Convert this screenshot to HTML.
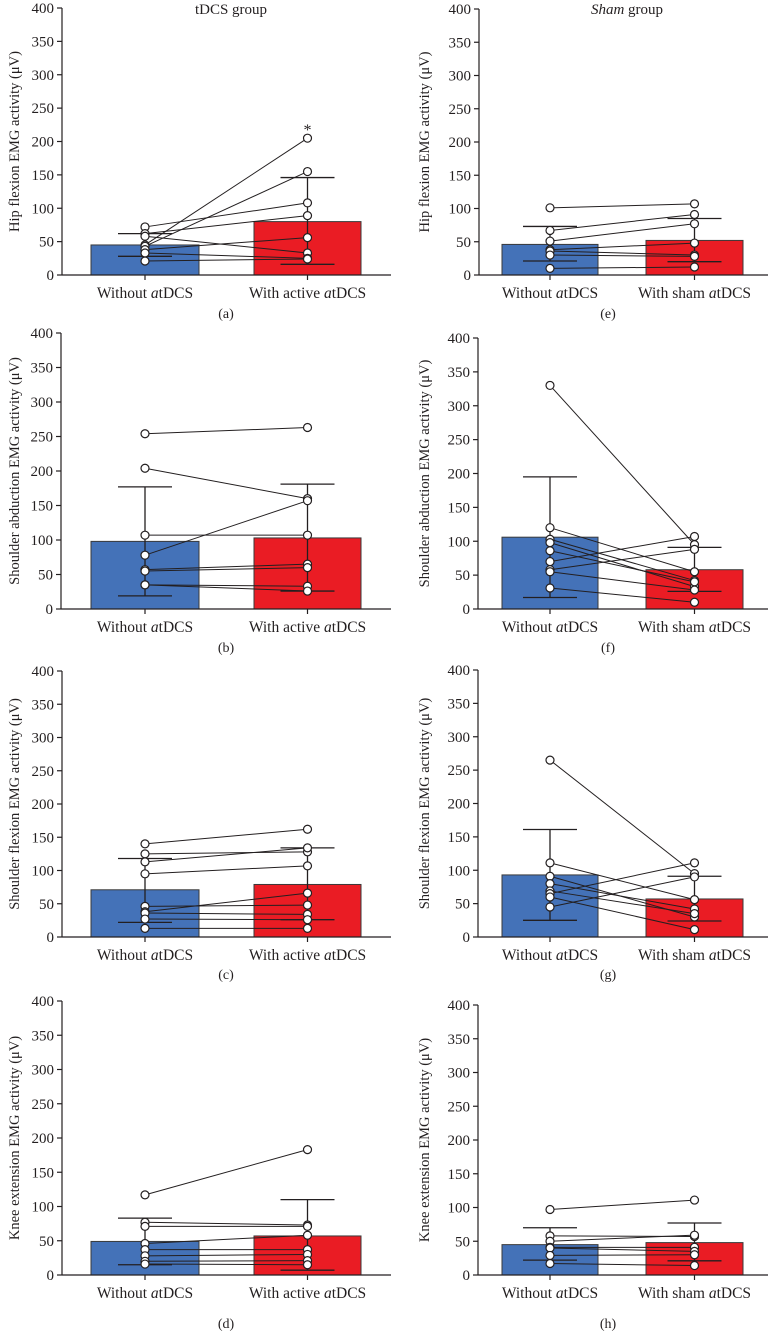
<!DOCTYPE html>
<html><head><meta charset="utf-8">
<style>
html,body{margin:0;padding:0;background:#fff;}
svg{display:block;}
text{font-family:"Liberation Serif",serif;fill:#231f20;}
</style></head>
<body>
<svg id="fig" width="769" height="1332" viewBox="0 0 769 1332" xmlns="http://www.w3.org/2000/svg"></svg>
<script>
const yTicks = [0,50,100,150,200,250,300,350,400];
const conditionsLeft = ["Without ", "With active "];
const conditionsRight = ["Without ", "With sham "];

const aBefore = [72,62,58,45,43,38,33,21];
const aAfter  = [108,89,33,205,155,56,25,24];
const aMeans = [45,80];
const aErrLo = [28,16];
const aErrHi = [62,146];

const bBefore = [254,204,107,78,57,55,35,35];
const bAfter  = [263,160,107,157,65,60,33,26];
const bMeans = [98,103];
const bErrLo = [19,26];
const bErrHi = [177,181];

const cBefore = [140,125,113,95,46,38,36,27,13];
const cAfter  = [162,128,134,107,48,66,34,26,13];
const cMeans = [71,79];
const cErrLo = [22,26];
const cErrHi = [118,134];

const dBefore = [117,77,71,46,37,28,20,16];
const dAfter  = [183,73,71,58,37,30,21,15];
const dMeans = [49,57];
const dErrLo = [15,7];
const dErrHi = [83,110];

const eBefore = [101,67,51,38,36,30,10];
const eAfter  = [107,91,77,48,30,28,12];
const eMeans = [46,52];
const eErrLo = [21,20];
const eErrHi = [73,85];

const fBefore = [330,120,103,98,86,70,58,55,31];
const fAfter  = [95,55,42,33,40,107,88,28,10];
const fMeans = [106,58];
const fErrLo = [17,26];
const fErrHi = [195,91];

const gBefore = [265,111,91,80,69,65,60,45];
const gAfter  = [95,56,30,42,35,111,11,90];
const gMeans = [93,57];
const gErrLo = [25,24];
const gErrHi = [161,91];

const hBefore = [97,58,50,41,40,29,17];
const hAfter  = [111,57,59,41,35,30,14];
const hMeans = [45,48];
const hErrLo = [22,21];
const hErrHi = [70,77];

const NS = "http://www.w3.org/2000/svg";
const svg = document.getElementById('fig');
function mk(tag, attrs, parent){
  const e = document.createElementNS(NS, tag);
  for (const k in attrs) e.setAttribute(k, attrs[k]);
  (parent||svg).appendChild(e);
  return e;
}

function panel(p){
  const g = mk('g', {});
  
  
  const ys = v => p.y0 - (v/400)*(p.y0 - p.y400);
  const cx = [(p.b[0]+p.b[1])/2, (p.r[0]+p.r[1])/2];
  const colors = ['#4472b8', '#ea1c24'];
  const spans = [p.b, p.r];
  for (let i=0;i<2;i++){
    const bar = mk('rect', {x:spans[i][0], y:ys(p.means[i]), width:spans[i][1]-spans[i][0], height:p.y0-ys(p.means[i]), fill:colors[i], stroke:'#3a3a3a', 'stroke-width':1}, g);
    
    
  }
  for (let i=0;i<2;i++){
    const eg = mk('g', {stroke:'#231f20','stroke-width':1.3}, g);
    
    
    mk('line', {x1:cx[i], x2:cx[i], y1:ys(p.lo[i]), y2:ys(p.hi[i])}, eg);
    mk('line', {x1:cx[i]-27, x2:cx[i]+27, y1:ys(p.lo[i]), y2:ys(p.lo[i])}, eg);
    mk('line', {x1:cx[i]-27, x2:cx[i]+27, y1:ys(p.hi[i]), y2:ys(p.hi[i])}, eg);
  }
  for (let k=0;k<p.before.length;k++){
    const ln = mk('line', {x1:cx[0], y1:ys(p.before[k]), x2:cx[1], y2:ys(p.after[k]), stroke:'#231f20','stroke-width':1}, g);
    
    
  }
  for (let k=0;k<p.before.length;k++){
    const c1 = mk('circle', {cx:cx[0], cy:ys(p.before[k]), r:4, fill:'#fff', stroke:'#231f20','stroke-width':1.2}, g);
    
    
    const c2 = mk('circle', {cx:cx[1], cy:ys(p.after[k]), r:4, fill:'#fff', stroke:'#231f20','stroke-width':1.2}, g);
    
    
  }
  const ya = mk('line', {x1:p.ax, x2:p.ax, y1:p.y400, y2:p.y0, stroke:'#231f20','stroke-width':1.2}, g);
  
  
  const xa = mk('line', {x1:p.ax, x2:p.xend, y1:p.y0, y2:p.y0, stroke:'#231f20','stroke-width':1.2}, g);
  
  
  for (const t of yTicks){
    mk('line', {x1:p.ax-5, x2:p.ax, y1:ys(t), y2:ys(t), stroke:'#231f20','stroke-width':1.2}, g);
    const tx = mk('text', {x:p.ax-8, y:ys(t)+5, 'text-anchor':'end', 'font-size':15}, g);
    tx.textContent = t;
    
    
  }
  for (let i=0;i<2;i++){
    mk('line', {x1:cx[i], x2:cx[i], y1:p.y0, y2:p.y0+5, stroke:'#231f20','stroke-width':1.2}, g);
    const tx = mk('text', {x:cx[i], y:p.y0+23, 'text-anchor':'middle', 'font-size':15.5}, g);
    
    
    const s1 = mk('tspan', {}, tx); s1.textContent = p.cats[i];
    const s2 = mk('tspan', {'font-style':'italic'}, tx); s2.textContent = 'a';
    const s3 = mk('tspan', {}, tx); s3.textContent = 'tDCS';
  }
  const ymid = (p.y0 + p.y400)/2;
  const yt = mk('text', {x:p.ylx, y:ymid, 'text-anchor':'middle', 'font-size':14.5, transform:'rotate(-90 '+p.ylx+' '+ymid+')'}, g);
  yt.textContent = p.ytitle;
  
  
  const lab = mk('text', {x:p.labX, y:p.labY, 'text-anchor':'middle', 'font-size':14}, g);
  lab.textContent = '(' + p.id + ')';
  
  
}

const L = {ax:62, b:[91,199], r:[254,361], xend:391, ylx:19, labX:226, cats:conditionsLeft};
const R = {ax:478, b:[502,598], r:[646,743], xend:768, ylx:429, labX:608, cats:conditionsRight};

panel(Object.assign({}, L, {id:'a', y0:275, y400:8, before:aBefore, after:aAfter, means:aMeans, lo:aErrLo, hi:aErrHi, ytitle:'Hip flexion  EMG activity (\u03BCV)', labY:318}));
panel(Object.assign({}, L, {id:'b', ax:61, y0:609, y400:333, before:bBefore, after:bAfter, means:bMeans, lo:bErrLo, hi:bErrHi, ytitle:'Shoulder abduction  EMG activity (\u03BCV)', labY:652}));
panel(Object.assign({}, L, {id:'c', y0:937, y400:671, before:cBefore, after:cAfter, means:cMeans, lo:cErrLo, hi:cErrHi, ytitle:'Shoulder flexion  EMG activity (\u03BCV)', labY:979}));
panel(Object.assign({}, L, {id:'d', y0:1275, y400:1001, before:dBefore, after:dAfter, means:dMeans, lo:dErrLo, hi:dErrHi, ytitle:'Knee extension  EMG activity (\u03BCV)', labY:1328}));
panel(Object.assign({}, R, {id:'e', ax:479, y0:275, y400:9, before:eBefore, after:eAfter, means:eMeans, lo:eErrLo, hi:eErrHi, ytitle:'Hip flexion  EMG activity (\u03BCV)', labY:318}));
panel(Object.assign({}, R, {id:'f', y0:609, y400:338, before:fBefore, after:fAfter, means:fMeans, lo:fErrLo, hi:fErrHi, ytitle:'Shoulder abduction  EMG activity (\u03BCV)', labY:652}));
panel(Object.assign({}, R, {id:'g', y0:937, y400:670, before:gBefore, after:gAfter, means:gMeans, lo:gErrLo, hi:gErrHi, ytitle:'Shoulder flexion  EMG activity (\u03BCV)', labY:979}));
panel(Object.assign({}, R, {id:'h', y0:1275, y400:1005, before:hBefore, after:hAfter, means:hMeans, lo:hErrLo, hi:hErrHi, ytitle:'Knee extension  EMG activity (\u03BCV)', labY:1328}));

const t1 = mk('text', {x:231, y:14, 'text-anchor':'middle', 'font-size':15});
t1.textContent = 'tDCS group';


const t2 = mk('text', {x:627, y:14, 'text-anchor':'middle', 'font-size':15});


const t2a = mk('tspan', {'font-style':'italic'}, t2); t2a.textContent = 'Sham';
const t2b = mk('tspan', {}, t2); t2b.textContent = ' group';
const star = mk('text', {x:307.5, y:135, 'text-anchor':'middle', 'font-size':16});
star.textContent = '*';


</script>
</body></html>
